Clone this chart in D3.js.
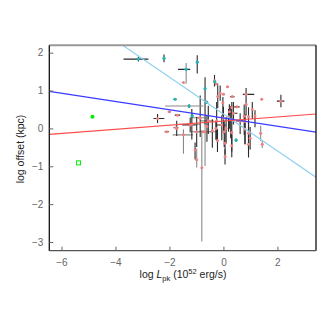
<!DOCTYPE html>
<html><head><meta charset="utf-8">
<script src="https://cdn.jsdelivr.net/npm/d3@7"></script>
<style>body{margin:0;background:#fff;} svg{display:block;font-family:"Liberation Sans",Arial,sans-serif;}</style>
</head><body>
<div id="chart"></div>
<script>
// Cyan sample: x, y, x-err(-), x-err(+), y-err(-), y-err(+)
const cyanX  = [-3.15,-2.20,-0.97,-1.38,-0.32,-0.68,-1.79,-1.27,-0.62,-1.16, 0.47];
const cyanY  = [ 1.83, 1.85, 1.75, 1.56, 1.23, 1.05, 0.77, 0.59, 0.69, 0.33,-0.31];
const cyanXm = [ 0.55, 0.04, 0.04, 0.30, 0.00, 0.03, 0.06, 0.89, 0.00, 0.05, 0.04];
const cyanXp = [ 0.37, 0.04, 0.04, 0.15, 0.00, 0.03, 0.06, 0.53, 0.00, 0.05, 0.04];
const cyanYm = [ 0.06, 0.10, 0.30, 0.38, 0.05, 0.95, 0.00, 0.05, 0.04, 0.05, 0.04];
const cyanYp = [ 0.06, 0.10, 0.18, 0.17, 0.05, 0.30, 0.00, 0.05, 0.04, 0.05, 0.04];
const cyanHTone = ["k","k","k","k","k","k","k","g","k","k","k"];
const cyanVTone = ["k","k","k","g","k","k","k","k","k","k","k"];

// Salmon sample
const salX  = [-1.48,-0.33,-0.27, 0.15,-0.21,-0.12, 0.00, 0.33, 0.84, 1.42, 2.13,-0.02, 0.84, 0.50, 1.07, 0.31, 0.22, 0.37, 0.19, 0.77, 0.93, 1.17,-0.25, 0.00, 0.27, 0.62, 0.80,-0.56,-0.86,-1.17,-0.41,-0.06, 0.10, 0.03, 0.31, 0.80, 0.93, 0.99, 1.38, 1.44,-1.48,-0.99,-0.68, 0.31, 0.06, 0.93,-1.05,-0.99, 0.06,-0.80,-2.00,-2.44,-1.70,-0.89,-2.10,-1.73,-1.23,-0.61,-0.74,-0.28,-0.22,-1.76];
const salY  = [ 1.21, 1.26, 1.17, 1.10, 0.84, 0.93, 0.90, 0.84, 0.90, 0.77, 0.72, 0.68, 0.64, 0.57, 0.50, 0.55, 0.44, 0.40, 0.31, 0.33, 0.31, 0.33, 0.20, 0.27, 0.24, 0.20, 0.18, 0.20, 0.27, 0.11,-0.06, 0.09, 0.00,-0.09,-0.11,-0.02,-0.13,-0.26,-0.13,-0.42,-0.17,-0.09,-0.09,-0.46,-0.39,-0.42,-0.57,-0.83,-0.75,-1.04, 0.44, 0.26, 0.35, 0.28,-0.09, 0.00, 0.09, 0.05,-0.09, 0.00,-0.32, 0.02];
const salXm = [ 0.00, 0.00, 0.08, 0.05, 0.00, 0.00, 0.05, 0.08, 0.12, 0.00, 0.15, 0.00, 0.00, 0.10, 0.00, 0.00, 0.00, 0.15, 0.00, 0.00, 0.00, 0.00, 0.00, 0.00, 0.00, 0.15, 0.00, 0.30, 0.00, 0.50, 0.00, 0.20, 0.00, 0.00, 0.00, 0.00, 0.00, 0.00, 0.00, 0.00, 0.40, 0.00, 0.50, 0.00, 0.00, 0.00, 0.00, 0.00, 0.00, 0.00, 0.06, 0.15, 0.10, 0.30, 0.08, 0.00, 0.30, 0.00, 0.35, 0.00, 0.00, 0.10];
const salXp = [ 0.00, 0.00, 0.08, 0.05, 0.00, 0.00, 0.05, 0.08, 0.30, 0.00, 0.13, 0.00, 0.00, 0.10, 0.00, 0.00, 0.00, 0.15, 0.00, 0.00, 0.00, 0.00, 0.00, 0.00, 0.00, 0.10, 0.00, 0.20, 0.00, 0.30, 0.00, 0.15, 0.00, 0.00, 0.00, 0.00, 0.00, 0.00, 0.00, 0.00, 0.35, 0.00, 0.40, 0.00, 0.00, 0.00, 0.00, 0.00, 0.00, 0.00, 0.06, 0.25, 0.10, 0.20, 0.08, 0.00, 0.20, 0.00, 0.30, 0.00, 0.00, 0.10];
const salYm = [ 0.00, 0.15, 0.00, 0.00, 0.30, 0.20, 0.00, 0.00, 0.17, 0.00, 0.16, 0.35, 0.30, 0.00, 0.25, 0.30, 0.45, 0.30, 0.40, 0.50, 0.60, 0.30, 0.50, 0.40, 0.50, 0.35, 0.60, 0.35, 0.50, 0.40, 0.45, 0.40, 0.40, 0.40, 0.50, 0.40, 0.45, 0.30, 0.20, 0.10, 0.50, 0.40, 0.90, 0.30, 0.30, 0.35, 0.25, 0.20, 0.20, 1.95, 0.00, 0.12, 0.00, 0.00, 0.00, 0.20, 0.20, 0.40, 0.00, 0.30, 0.30, 0.00];
const salYp = [ 0.00, 0.15, 0.00, 0.00, 0.30, 0.20, 0.00, 0.00, 0.17, 0.00, 0.17, 0.15, 0.10, 0.00, 0.20, 0.15, 0.20, 0.30, 0.20, 0.30, 0.25, 0.15, 0.50, 0.30, 0.35, 0.20, 0.20, 0.40, 0.60, 0.40, 0.30, 0.25, 0.30, 0.30, 0.30, 0.30, 0.30, 0.30, 0.20, 0.10, 0.15, 0.40, 0.30, 0.30, 0.30, 0.30, 0.20, 0.30, 0.20, 1.00, 0.00, 0.12, 0.00, 0.00, 0.00, 0.20, 0.20, 0.30, 0.00, 0.20, 0.30, 0.00];
const salHTone = ["k","k","k","k","k","k","k","k","k","k","k","k","k","k","k","k","k","k","k","k","k","k","k","k","k","k","k","g","k","g","k","k","k","k","k","k","k","k","k","k","g","k","g","k","k","k","k","k","k","k","k","k","k","g","k","k","k","k","g","k","k","g"];
const salVTone = ["k","k","k","k","k","k","k","k","k","k","k","k","k","k","k","k","k","k","k","k","k","k","k","k","k","k","k","k","k","k","k","k","k","k","k","k","k","k","g","g","g","k","g","k","k","k","k","g","k","g","k","k","k","k","k","k","k","k","k","k","k","k"];

// Special green points
const greenFilled = [[-4.85, 0.31]];
const greenOpen = [[-5.37, -0.91]];

// Fitted lines: [x0,y0,x1,y1]
const blueLine = [-6.45, 0.98, 3.43, -0.10];
const redLine  = [-6.45, -0.156, 3.43, 0.38];
const skyLine  = [-3.73, 2.195, 3.43, -1.29];

const xTicks = [-6,-4,-2,0,2];
const yTicks = [-3,-2,-1,0,1,2];

const W = 332, H = 329;
const L = 49.3, R = 316, T = 45.3, B = 250.7;
const x = d3.scaleLinear().domain([-6.45, 3.43]).range([L, R]);
const y = d3.scaleLinear().domain([-3.23, 2.195]).range([B, T]);

const svg = d3.select("#chart").append("svg").attr("width", W).attr("height", H);
svg.append("defs").append("clipPath").attr("id","clip")
  .append("rect").attr("x",L).attr("y",T).attr("width",R-L).attr("height",B-T);

const tone = t => t === "g" ? "#8a8a8a" : "#2a2a2a";
const g = svg.append("g").attr("clip-path","url(#clip)");

function drawSet(X, Y, Xm, Xp, Ym, Yp, HT, VT) {
  const idx = d3.range(X.length);
  g.append("g").selectAll("line.h").data(idx.filter(i => Xm[i] + Xp[i] > 0)).join("line")
    .attr("x1", i => x(X[i]-Xm[i])).attr("x2", i => x(X[i]+Xp[i]))
    .attr("y1", i => y(Y[i])).attr("y2", i => y(Y[i]))
    .attr("stroke", i => tone(HT[i])).attr("stroke-width", 1.1);
  g.append("g").selectAll("line.v").data(idx.filter(i => Ym[i] + Yp[i] > 0)).join("line")
    .attr("x1", i => x(X[i])).attr("x2", i => x(X[i]))
    .attr("y1", i => y(Y[i]-Ym[i])).attr("y2", i => y(Y[i]+Yp[i]))
    .attr("stroke", i => tone(VT[i])).attr("stroke-width", 1.1);
  return idx;
}
const sIdx = drawSet(salX, salY, salXm, salXp, salYm, salYp, salHTone, salVTone);
const cIdx = drawSet(cyanX, cyanY, cyanXm, cyanXp, cyanYm, cyanYp, cyanHTone, cyanVTone);

g.append("g").selectAll("circle").data(sIdx).join("circle")
  .attr("cx", i => x(salX[i])).attr("cy", i => y(salY[i])).attr("r", 1.5)
  .attr("fill", "#f08080");
g.append("g").selectAll("circle").data(cIdx).join("circle")
  .attr("cx", i => x(cyanX[i])).attr("cy", i => y(cyanY[i])).attr("r", 1.6)
  .attr("fill", "#1fb3b3");

// lines
[[skyLine,"#8fd0ee"],[blueLine,"#3b3bff"],[redLine,"#ff4a4a"]].forEach(([l,c]) => {
  g.append("line").attr("x1", x(l[0])).attr("y1", y(l[1])).attr("x2", x(l[2])).attr("y2", y(l[3]))
    .attr("stroke", c).attr("stroke-width", 1.2);
});

// green
g.selectAll("circle.gf").data(greenFilled).join("circle").attr("class","gf")
  .attr("cx", d => x(d[0])).attr("cy", d => y(d[1])).attr("r", 2).attr("fill", "#00ee00");
g.selectAll("rect.go").data(greenOpen).join("rect").attr("class","go")
  .attr("x", d => x(d[0]) - 2).attr("y", d => y(d[1]) - 2).attr("width", 4).attr("height", 4)
  .attr("fill", "none").attr("stroke", "#00ee00").attr("stroke-width", 1);

// frame
svg.append("line").attr("x1", L).attr("x2", R).attr("y1", T).attr("y2", T).attr("stroke", "#999").attr("stroke-width", 2);
svg.append("line").attr("x1", R).attr("x2", R).attr("y1", T).attr("y2", B).attr("stroke", "#111").attr("stroke-width", 1.3);
svg.append("line").attr("x1", L).attr("x2", R).attr("y1", B).attr("y2", B).attr("stroke", "#555").attr("stroke-width", 1.3);
svg.append("line").attr("x1", L).attr("x2", L).attr("y1", T).attr("y2", B).attr("stroke", "#111").attr("stroke-width", 1.3);

// axes (ticks inward)
const xAxis = svg.append("g").attr("transform", `translate(0,${B})`)
  .call(d3.axisBottom(x).tickValues(xTicks).tickSize(-4).tickPadding(8).tickFormat(d => d < 0 ? "\u2212" + Math.abs(d) : d));
xAxis.select(".domain").remove();
xAxis.selectAll("line").attr("stroke", "#666");
xAxis.selectAll("text").attr("fill", "#666").attr("font-size", 10).attr("font-family","Liberation Sans, Arial, sans-serif");

const yAxis = svg.append("g").attr("transform", `translate(${L},0)`)
  .call(d3.axisLeft(y).tickValues(yTicks).tickSize(-4).tickPadding(6).tickFormat(d => d < 0 ? "\u2212" + Math.abs(d) : d));
yAxis.select(".domain").remove();
yAxis.selectAll("line").attr("stroke", "#666");
yAxis.selectAll("text").attr("fill", "#666").attr("font-size", 10).attr("font-family","Liberation Sans, Arial, sans-serif");

// labels
svg.append("text").attr("transform", "translate(24,149) rotate(-90)").attr("text-anchor", "middle")
  .attr("font-size", 10.5).attr("fill", "#222").text("log offset (kpc)");
const xl = svg.append("text").attr("x", 183).attr("y", 278).attr("text-anchor", "middle")
  .attr("font-size", 10.5).attr("fill", "#222");
xl.append("tspan").text("log ");
xl.append("tspan").attr("font-style", "italic").text("L");
xl.append("tspan").attr("font-size", 7.5).attr("dy", 2.5).text("pk");
xl.append("tspan").attr("dy", -2.5).text(" (10");
xl.append("tspan").attr("font-size", 7.5).attr("dy", -4).text("52");
xl.append("tspan").attr("dy", 4).text(" erg/s)");
</script>
</body></html>
